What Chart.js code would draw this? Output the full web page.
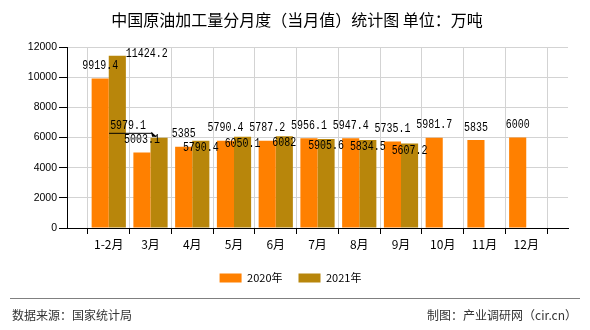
<!DOCTYPE html>
<html>
<head>
<meta charset="utf-8">
<script src="https://cdn.jsdelivr.net/npm/chart.js@4/dist/chart.umd.min.js"></script>
<style>
html,body{margin:0;padding:0;background:#fff;}
#wrap{width:590px;height:330px;position:relative;}
</style>
</head>
<body>
<div id="wrap"><canvas id="c" width="590" height="330"></canvas></div>
<script>
// ---- data ----
const categories = ['1-2月','3月','4月','5月','6月','7月','8月','9月','10月','11月','12月'];
const series2020 = [9919.4, 5003.1, 5385, 5790.4, 5787.2, 5956.1, 5947.4, 5735.1, 5981.7, 5835, 6000];
const series2021 = [11424.2, 5979.1, 5790.4, 6050.1, 6082, 5905.6, 5834.5, 5607.2, null, null, null];
const seriesNames = ['2020年', '2021年'];
const yTicks = [0, 2000, 4000, 6000, 8000, 10000, 12000];
const titleText = '中国原油加工量分月度（当月值）统计图 单位：万吨';
const sourceText = '数据来源：国家统计局';
const makerText = '制图：产业调研网（cir.cn）';

// ---- styles ----
const COLORS = ['#FF8000', '#B8860B'];
const CJK = '"Noto Sans CJK SC", "Liberation Sans", sans-serif';

// padded category axis: empty slot at both ends so ticks sit at 0..12
const axisLabels = [''].concat(categories, ['']);
const pad = arr => [null].concat(arr, [null]);

const LABEL_SX = 0.83;
function drawNarrow(ctx, text, cx, cy, align) {
  ctx.save();
  ctx.translate(cx, cy);
  ctx.scale(LABEL_SX, 1);
  ctx.textAlign = align || 'center';
  ctx.fillText(text, 0, 0);
  ctx.restore();
}

const valueLabels = {
  id: 'valueLabels',
  afterDatasetsDraw(chart) {
    const ctx = chart.ctx;
    ctx.save();
    ctx.font = '12px "Liberation Mono", "DejaVu Sans Mono", monospace';
    ctx.fillStyle = '#000';
    ctx.textBaseline = 'middle';
    chart.data.datasets.forEach((ds, di) => {
      const meta = chart.getDatasetMeta(di);
      meta.data.forEach((bar, i) => {
        const v = ds.data[i];
        if (v === null || v === undefined) return;
        const text = String(v);
        const half = bar.width / 2;
        if (di === 0) {
          drawNarrow(ctx, text, bar.x, bar.y - 12.5);
        } else if (i === 1) {
          // label too close to chart top: put it to the right of the bar
          drawNarrow(ctx, text, bar.x + half, bar.y - 2, 'left');
        } else if (i === 2) {
          // callout label with leader line
          drawNarrow(ctx, text, bar.x - 31, bar.y - 12);
          ctx.strokeStyle = '#000';
          ctx.lineWidth = 1;
          ctx.beginPath();
          ctx.moveTo(bar.x - 50, bar.y - 4.5);
          ctx.lineTo(bar.x - 6, bar.y - 4.5);
          ctx.stroke();
          ctx.beginPath();
          ctx.moveTo(bar.x - 2, bar.y - 1);
          ctx.lineTo(bar.x - 8, bar.y - 6);
          ctx.lineTo(bar.x - 7, bar.y - 1);
          ctx.closePath();
          ctx.fill();
        } else {
          drawNarrow(ctx, text, bar.x, bar.y + 7);
        }
      });
    });
    ctx.restore();
  }
};

const decorations = {
  id: 'decorations',
  afterDraw(chart) {
    const ctx = chart.ctx;
    ctx.save();
    // title
    ctx.fillStyle = '#000';
    ctx.font = '16px ' + CJK;
    ctx.textAlign = 'center';
    ctx.textBaseline = 'middle';
    ctx.fillText(titleText, 297, 19.5);
    // footer line
    ctx.strokeStyle = '#808080';
    ctx.lineWidth = 1;
    ctx.beginPath();
    ctx.moveTo(10, 298.5);
    ctx.lineTo(580, 298.5);
    ctx.stroke();
    // footer texts
    ctx.fillStyle = '#333';
    ctx.font = '12px ' + CJK;
    ctx.textAlign = 'left';
    ctx.fillText(sourceText, 12, 315);
    ctx.textAlign = 'right';
    ctx.fillText(makerText, 577, 315);
    ctx.restore();
  }
};

new Chart(document.getElementById('c'), {
  type: 'bar',
  data: {
    labels: axisLabels,
    datasets: [
      { label: seriesNames[0], data: pad(series2020), backgroundColor: COLORS[0], borderWidth: 0 },
      { label: seriesNames[1], data: pad(series2021), backgroundColor: COLORS[1], borderWidth: 0 }
    ]
  },
  options: {
    responsive: false,
    animation: false,
    devicePixelRatio: 1,
    categoryPercentage: 0.82,
    barPercentage: 1,
    layout: { padding: { left: 13, right: 22, top: 47, bottom: 36.5 } },
    plugins: {
      title: { display: false },
      tooltip: { enabled: false },
      legend: {
        display: true,
        position: 'bottom',
        labels: {
          boxWidth: 22,
          boxHeight: 9,
          padding: 16,
          color: '#000',
          font: { size: 11, family: CJK }
        }
      }
    },
    scales: {
      x: {
        offset: false,
        grid: { color: '#d3d3d3', tickColor: '#000', tickLength: 6, drawOnChartArea: true },
        border: { color: '#000', width: 1 },
        ticks: {
          autoSkip: false, maxRotation: 0, minRotation: 0, padding: 3,
          color: '#000', font: { size: 12, family: CJK }
        },
        afterFit(scale) { scale.height = 28.5; }
      },
      y: {
        min: yTicks[0],
        max: yTicks[yTicks.length - 1],
        afterBuildTicks(scale) { scale.ticks = yTicks.map(v => ({ value: v })); },
        grid: { color: '#d3d3d3', tickColor: '#000', tickLength: 8 },
        border: { color: '#000', width: 1 },
        ticks: {
          padding: 2, color: '#000',
          font: { size: 10.5, family: '"Liberation Sans", Arial, sans-serif' },
          callback: v => String(v)
        },
        afterFit(scale) { scale.width = 54; }
      }
    }
  },
  plugins: [valueLabels, decorations]
});
</script>
</body>
</html>
